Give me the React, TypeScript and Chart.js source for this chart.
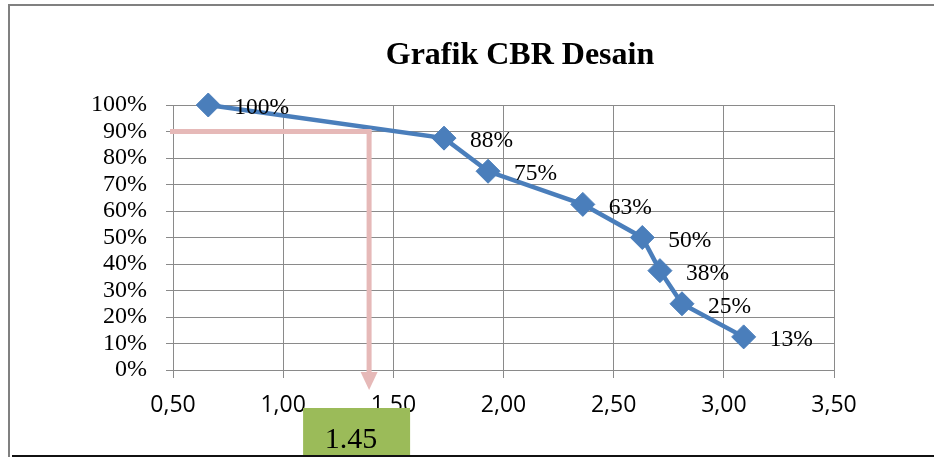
import React, { useEffect, useRef } from "react";
import { Chart, registerables } from "chart.js";

Chart.register(...registerables);

const chartTitle = "Grafik CBR Desain";
const cbrValues = [0.66, 1.73, 1.93, 2.36, 2.63, 2.71, 2.81, 3.09];
const percentValues = [100, 87.5, 75, 62.5, 50, 37.5, 25, 12.5];
const pointLabels = ["100%", "88%", "75%", "63%", "50%", "38%", "25%", "13%"];
const guideX = 1.39;
const guideY = 90;
const guideLabel = "1.45";

const overlayPlugin = {
  id: "overlay",
  beforeDraw(chart: any) {
    const ctx = chart.ctx;
    ctx.save();
    ctx.fillStyle = "#ffffff";
    ctx.fillRect(0, 0, chart.width, chart.height);
    ctx.restore();
  },
  afterDraw(chart: any) {
    const ctx = chart.ctx;
    const xs = chart.scales.x;
    const ys = chart.scales.y;
    const area = chart.chartArea;
    ctx.save();
    // title
    ctx.fillStyle = "#000";
    ctx.font = "bold 32px 'Liberation Serif', 'Times New Roman', serif";
    ctx.textAlign = "center";
    ctx.textBaseline = "alphabetic";
    ctx.fillText(chartTitle, 520, 64);

    // data labels
    ctx.font = "23.5px 'Liberation Serif', 'Times New Roman', serif";
    ctx.textAlign = "left";
    ctx.textBaseline = "middle";
    for (let i = 0; i < cbrValues.length; i++) {
      const px = xs.getPixelForValue(cbrValues[i]);
      const py = ys.getPixelForValue(percentValues[i]);
      ctx.fillText(pointLabels[i], px + 26, py + 3);
    }

    // guide lines
    const gx = xs.getPixelForValue(guideX);
    const gy = ys.getPixelForValue(guideY);
    const y0 = ys.getPixelForValue(0);
    ctx.strokeStyle = "#E6B9B8";
    ctx.fillStyle = "#E6B9B8";
    ctx.lineWidth = 5;
    ctx.beginPath();
    ctx.moveTo(area.left - 3, gy);
    ctx.lineTo(gx + 2.5, gy);
    ctx.stroke();
    ctx.beginPath();
    ctx.moveTo(gx, gy);
    ctx.lineTo(gx, y0 + 3);
    ctx.stroke();
    ctx.beginPath();
    ctx.moveTo(gx - 8.5, y0 + 2);
    ctx.lineTo(gx + 8.5, y0 + 2);
    ctx.lineTo(gx, y0 + 20);
    ctx.closePath();
    ctx.fill();

    // green note box
    ctx.fillStyle = "#9BBB59";
    ctx.fillRect(gx - 66, 408, 107, 48);
    ctx.fillStyle = "#000";
    ctx.font = "30px 'Liberation Serif', 'Times New Roman', serif";
    ctx.textAlign = "center";
    ctx.textBaseline = "alphabetic";
    ctx.fillText(guideLabel, gx - 18, 448);

    // frame
    ctx.fillStyle = "#808080";
    ctx.fillRect(8, 4, 2, chart.height - 4);
    ctx.fillRect(8, 4, chart.width - 8, 2);
    ctx.fillStyle = "#111";
    ctx.fillRect(12, 455, chart.width - 12, 2);
    ctx.restore();
  },
};

export default function App() {
  const ref = useRef<HTMLCanvasElement>(null);
  useEffect(() => {
    if (!ref.current) return;
    const chart = new Chart(ref.current, {
      type: "line",
      data: {
        datasets: [
          {
            data: cbrValues.map((x, i) => ({ x, y: percentValues[i] })),
            borderColor: "#4A7EBB",
            backgroundColor: "#4A7EBB",
            borderWidth: 4.5,
            pointStyle: "rectRot",
            pointRadius: 12,
            pointBorderWidth: 1,
            pointBorderColor: "#4A7EBB",
            pointBackgroundColor: "#4A7EBB",
            tension: 0,
            clip: false,
          },
        ],
      },
      options: {
        animation: false,
        responsive: false,
        devicePixelRatio: 1,
        layout: { padding: { left: 0, right: 100, top: 105, bottom: 0 } },
        plugins: {
          legend: { display: false },
          title: { display: false },
          tooltip: { enabled: false },
        },
        scales: {
          x: {
            type: "linear",
            min: 0.5,
            max: 3.5,
            ticks: {
              stepSize: 0.5,
              autoSkip: false,
              maxRotation: 0,
              color: "#000",
              padding: 14,
              font: { family: "'Open Sans', 'Liberation Sans', sans-serif", size: 23 },
              callback: (v: any) => Number(v).toFixed(2).replace(".", ","),
            },
            grid: { color: "#8A8A8A", lineWidth: 1, tickLength: 8 },
            border: { color: "#8A8A8A", width: 1 },
            afterFit: (axis: any) => {
              axis.height = 87;
            },
          },
          y: {
            min: 0,
            max: 100,
            ticks: {
              stepSize: 10,
              autoSkip: false,
              color: "#000",
              padding: 19,
              font: { family: "'Liberation Serif', 'Times New Roman', serif", size: 24, lineHeight: 1 },
              callback: (v: any) => v + "%",
            },
            grid: { color: "#8A8A8A", lineWidth: 1, tickLength: 7 },
            border: { color: "#8A8A8A", width: 1 },
            afterFit: (axis: any) => {
              axis.width = 173;
            },
          },
        },
      },
      plugins: [overlayPlugin],
    });
    return () => chart.destroy();
  }, []);
  return (
    <div style={{ position: "absolute", left: 0, top: 0, width: 934, height: 457, background: "#fff" }}>
      <canvas ref={ref} width={934} height={457} style={{ display: "block", width: 934, height: 457 }} />
    </div>
  );
}
